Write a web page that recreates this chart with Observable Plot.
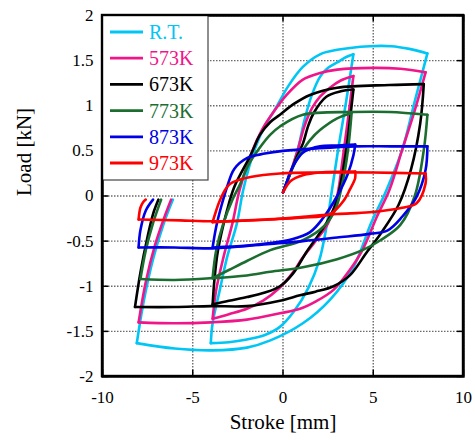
<!DOCTYPE html>
<html><head><meta charset="utf-8">
<script src="https://cdn.jsdelivr.net/npm/d3@7"></script>
<script src="https://cdn.jsdelivr.net/npm/@observablehq/plot@0.6"></script>
<style>
body{margin:0;background:#fff}
#c{width:475px;height:444px}
#c svg, #c svg text{font-family:"Liberation Serif",Tinos,"Times New Roman",Times,"Nimbus Roman","DejaVu Serif",serif !important}
</style>
</head><body><div id="c"></div><script>
// Tick values
const xTicks = [-10, -5, 0, 5, 10];
const yTicks = [-2, -1.5, -1, -0.5, 0, 0.5, 1, 1.5, 2];
const seriesNames = ["R.T.", "573K", "673K", "773K", "873K", "973K"];
const seriesColors = ["#00c6f5", "#f0168a", "#000000", "#1b6e30", "#0000e6", "#ff0000"];

// Each series: branches of [stroke mm, load kN]
const RT = [
  [[0,0.04],[0.4,0.25],[0.8,0.5],[1.2,0.85],[1.6,1.12],[2.05,1.32],[2.5,1.42],[3,1.48],[3.5,1.54],[3.9,1.57]],
  [[3.9,1.57],[3.5,1.05],[3.05,0.51],[2.7,0.05],[2.4,-0.35],[2.0,-0.72],[1.4,-1.02],[0.6,-1.28],[-0.17,-1.45],[-1,-1.54],[-2,-1.59],[-3,-1.62],[-4,-1.63]],
  [[-4,-1.63],[-3.9,-1.41],[-3.5,-1.04],[-3.1,-0.68],[-2.55,-0.3],[-2.2,0.07],[-1.6,0.5],[-1.0,0.78],[-0.44,0.96],[0.3,1.22],[1.1,1.43],[2.05,1.57],[3,1.62],[4.8,1.66],[6,1.66],[7,1.63],[8,1.58]],
  [[8,1.58],[7.3,1.05],[6.6,0.51],[5.7,0.05],[4.9,-0.29],[3.9,-0.79],[2.6,-1.15],[1.1,-1.41],[-0.7,-1.6],[-2,-1.68],[-3.9,-1.71],[-6,-1.69],[-8.1,-1.63]],
  [[-8.1,-1.63],[-7.7,-1.15],[-7.2,-0.7],[-6.6,-0.3],[-6.1,-0.04]]
];
const K573 = [
  [[0,0.04],[0.4,0.25],[0.8,0.5],[1.2,0.78],[1.6,0.97],[2.05,1.1],[2.6,1.2],[3.2,1.28],[3.9,1.33]],
  [[3.9,1.33],[3.6,0.85],[3.3,0.4],[3.0,0.0],[2.5,-0.3],[1.8,-0.5],[1.1,-0.68],[0.5,-0.86],[-0.2,-1.02],[-1.1,-1.16],[-2,-1.25],[-3,-1.31],[-3.9,-1.36]],
  [[-3.9,-1.36],[-3.7,-1.04],[-3.3,-0.68],[-2.8,-0.3],[-2.4,0.07],[-1.7,0.5],[-1.2,0.72],[-0.7,0.88],[0.2,1.12],[1.1,1.29],[2,1.36],[3,1.4],[5,1.42],[6.5,1.41],[7.9,1.37]],
  [[7.9,1.37],[7.3,0.95],[6.6,0.51],[5.9,0.07],[5.2,-0.23],[4.4,-0.6],[3.7,-0.82],[2.8,-1.04],[1.8,-1.17],[0.94,-1.25],[-0.17,-1.3],[-2,-1.37],[-4,-1.4],[-6,-1.41],[-8,-1.4]],
  [[-8,-1.4],[-7.6,-0.95],[-7.1,-0.55],[-6.6,-0.25],[-6.2,-0.04]]
];
const K673 = [
  [[0,0.04],[0.4,0.25],[0.8,0.45],[1.1,0.58],[1.4,0.78],[1.7,0.92],[2.4,1.1],[3.2,1.16],[3.9,1.18]],
  [[3.9,1.18],[3.5,0.51],[3.2,0.15],[2.9,-0.1],[2.4,-0.3],[1.9,-0.45],[1.3,-0.62],[0.55,-0.86],[-0.17,-1.0],[-1,-1.07],[-2,-1.12],[-3,-1.16],[-3.9,-1.2]],
  [[-3.9,-1.21],[-3.8,-0.93],[-3.6,-0.6],[-3.1,-0.16],[-2.7,0.1],[-1.8,0.45],[-1.27,0.68],[-0.7,0.82],[-0.17,0.9],[0.6,1.02],[1.5,1.12],[3,1.2],[5.9,1.23],[7.8,1.24]],
  [[7.8,1.24],[7.6,0.8],[7.1,0.3],[6.4,-0.1],[5.4,-0.42],[4.65,-0.62],[3.7,-0.88],[2.8,-1.0],[1.8,-1.06],[0.94,-1.1],[-0.17,-1.16],[-2,-1.22],[-4,-1.22],[-6,-1.23],[-8.2,-1.23]],
  [[-8.2,-1.23],[-7.9,-0.85],[-7.5,-0.45],[-7.2,-0.2],[-6.9,-0.04]]
];
const K773 = [
  [[0,0.04],[0.4,0.25],[0.8,0.42],[1.1,0.51],[1.5,0.62],[2.05,0.73],[3,0.86],[3.8,0.92]],
  [[3.8,0.92],[3.6,0.51],[3.3,0.15],[2.9,-0.15],[2.3,-0.33],[1.1,-0.49],[-0.7,-0.6],[-2,-0.72],[-3,-0.82],[-3.9,-0.91]],
  [[-3.9,-0.91],[-3.7,-0.6],[-3.3,-0.3],[-2.8,-0.04],[-2.4,0.12],[-1.9,0.35],[-1.27,0.54],[-0.7,0.68],[-0.17,0.77],[1.1,0.9],[3.9,0.93],[5.9,0.93],[8,0.9]],
  [[8,0.9],[7.8,0.51],[7.3,0.0],[6.5,-0.32],[5.4,-0.49],[4.4,-0.6],[3,-0.7],[1.1,-0.79],[-0.7,-0.84],[-2,-0.88],[-3.9,-0.91],[-6,-0.93],[-7.9,-0.92]],
  [[-7.9,-0.92],[-7.6,-0.6],[-7.2,-0.3],[-6.75,-0.04]]
];
const K873 = [
  [[0,0.04],[0.2,0.15],[0.39,0.26],[0.7,0.38],[1.1,0.48],[1.5,0.52],[2.05,0.55],[3,0.56],[4,0.57]],
  [[4,0.57],[3.9,0.45],[3.6,0.25],[3.0,0.0],[2.2,-0.25],[1.5,-0.4],[0.5,-0.48],[-0.7,-0.52],[-2,-0.55],[-3.9,-0.57]],
  [[-3.9,-0.57],[-3.7,-0.34],[-3.4,-0.1],[-3.1,0.1],[-2.7,0.3],[-2,0.42],[-1,0.47],[0,0.5],[2,0.53],[4,0.55],[6,0.55],[8,0.55]],
  [[8,0.55],[7.9,0.29],[7.4,-0.01],[6.6,-0.23],[5.8,-0.38],[4.8,-0.42],[3,-0.46],[1.1,-0.5],[-0.7,-0.53],[-3.9,-0.58],[-6,-0.57],[-8,-0.57]],
  [[-8,-0.57],[-7.9,-0.38],[-7.6,-0.16],[-7.2,-0.04]]
];
const K973 = [
  [[0,0.04],[0.2,0.11],[0.39,0.16],[0.7,0.2],[1.1,0.23],[2.05,0.26],[4,0.27]],
  [[4,0.27],[4,0.2],[3.7,0.07],[3.4,-0.04],[2.6,-0.2],[1,-0.24],[-1,-0.26],[-3.9,-0.29]],
  [[-3.9,-0.29],[-3.5,-0.05],[-3.1,0.1],[-2.8,0.15],[-1.8,0.21],[-0.17,0.25],[2,0.26],[5,0.26],[7.9,0.25]],
  [[7.9,0.25],[7.9,0.14],[7.4,-0.08],[6.6,-0.13],[4.8,-0.18],[3,-0.2],[1.1,-0.23],[-0.7,-0.26],[-3.9,-0.28],[-5.7,-0.27],[-8,-0.26]],
  [[-8,-0.26],[-7.9,-0.13],[-7.75,-0.07],[-7.6,-0.04]]
];
const allSeries = [RT, K573, K673, K773, K873, K973];

const rows = [];
allSeries.forEach((branches, si) => branches.forEach((br, bi) => br.forEach(([x, y]) =>
  rows.push({s: seriesNames[si], k: si + "-" + bi, x, y}))));

const font = "Liberation Serif, Tinos, Times New Roman, DejaVu Serif, serif";
const plot = Plot.plot({
  width: 475, height: 444,
  marginLeft: 102, marginRight: 12, marginTop: 15, marginBottom: 68,
  style: {fontFamily: font, fontSize: "17px", color: "#000", background: "#fff"},
  x: {domain: [-10, 10], label: null},
  y: {domain: [-2, 2], label: null},
  color: {domain: seriesNames, range: seriesColors},
  marks: [
    Plot.gridX(xTicks, {stroke: "#6a6a6a", strokeOpacity: 1, strokeWidth: 1.4, strokeDasharray: "1.5,1.5"}),
    Plot.gridY(yTicks, {stroke: "#6a6a6a", strokeOpacity: 1, strokeWidth: 1.4, strokeDasharray: "1.5,1.5"}),
    Plot.axisX(xTicks, {tickSize: 0, tickPadding: 14, tickFormat: d => String(d), label: null, fontSize: 17, fontFamily: font}),
    Plot.axisY(yTicks, {tickSize: 0, tickPadding: 9, tickFormat: d => String(d), label: null, fontSize: 17, fontFamily: font}),
    Plot.line(rows, {x: "x", y: "y", z: "k", stroke: "s", strokeWidth: 2.6, curve: "catmull-rom"}),
    Plot.ruleX(xTicks, {y1: -2, y2: -1.93, stroke: "#000", strokeWidth: 1.5}),
    Plot.ruleX(xTicks, {y1: 1.93, y2: 2, stroke: "#000", strokeWidth: 1.5}),
    Plot.ruleY(yTicks, {x1: -10, x2: -9.66, stroke: "#000", strokeWidth: 1.5}),
    Plot.ruleY(yTicks, {x1: 9.66, x2: 10, stroke: "#000", strokeWidth: 1.5}),
    Plot.frame({stroke: "#000", strokeWidth: 2.4}),
    Plot.text(["Stroke [mm]"], {frameAnchor: "bottom", dy: 52, fontSize: 21, fill: "#000", fontFamily: font}),
    Plot.text(["Load [kN]"], {frameAnchor: "left", dx: -78, rotate: -90, fontSize: 21, fill: "#000", fontFamily: font})
  ]
});
document.getElementById("c").appendChild(plot);

// Legend box inside the plot area
const svg = d3.select(plot);
const lg = svg.append("g").attr("text-anchor", "start");
lg.append("rect").attr("x", 102).attr("y", 15).attr("width", 106).attr("height", 165)
  .attr("fill", "#fff").attr("stroke", "#444").attr("stroke-width", 1.2);
seriesNames.forEach((n, i) => {
  const y = 32 + 26.2 * i;
  lg.append("line").attr("x1", 110).attr("x2", 143).attr("y1", y).attr("y2", y)
    .attr("stroke", seriesColors[i]).attr("stroke-width", 2.8);
  lg.append("text").attr("x", 149).attr("y", y).attr("dy", "0.35em").attr("text-anchor", "start")
    .attr("font-family", font).attr("font-size", 20).attr("fill", seriesColors[i]).text(n);
});
// redraw frame edges over the legend
lg.append("rect").attr("x", 102).attr("y", 15).attr("width", 361).attr("height", 361)
  .attr("fill", "none").attr("stroke", "#000").attr("stroke-width", 2.4);
</script></body></html>
